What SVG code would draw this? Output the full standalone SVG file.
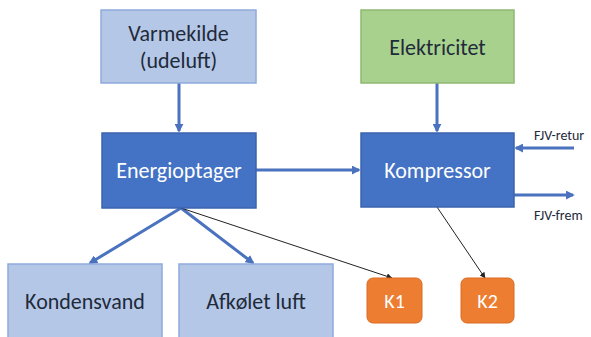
<svg xmlns="http://www.w3.org/2000/svg" width="591" height="337" viewBox="0 0 591 337">
  <style>
    text { font-family: Calibri, Carlito, "Liberation Sans", "DejaVu Sans", sans-serif; text-anchor: middle; }
    .light { fill: #b4c7e7; stroke: #8faadc; stroke-width: 1.5; }
    .dark { fill: #4472c4; stroke: #3b64ad; stroke-width: 1.5; }
    .green { fill: #a9d18e; stroke: #8fb872; stroke-width: 1.5; }
    .orange { fill: #ed7d31; stroke: #d96d25; stroke-width: 1; }
    .t-dark { fill: #1f2a3a; font-size: 22px; }
    .t-white { fill: #ffffff; font-size: 22px; }
    .t-k { fill: #ffffff; font-size: 20px; }
    .t-small { fill: #1f2a3a; font-size: 14px; text-anchor: start; }
    .flow { stroke: #4a72be; stroke-width: 3; fill: none; marker-end: url(#head); }
    .thin { stroke: #222; stroke-width: 1; fill: none; marker-end: url(#thinhead); }
  </style>
  <defs>
    <marker id="head" viewBox="0 0 10 10" refX="8" refY="5" markerWidth="3" markerHeight="3" orient="auto">
      <path d="M0,0 L10,5 L0,10 z" fill="#4a72be"/>
    </marker>
    <marker id="thinhead" viewBox="0 0 10 10" refX="9" refY="5" markerWidth="6" markerHeight="6" orient="auto">
      <path d="M0,0 L10,5 L0,10 z" fill="#222"/>
    </marker>
  </defs>

  <rect width="591" height="337" fill="#ffffff"/>

  <g id="connectors">
    <line class="flow" x1="179" y1="83" x2="179" y2="131"/>
    <line class="flow" x1="437" y1="83" x2="437" y2="131"/>
    <line class="flow" x1="256" y1="170" x2="359" y2="170"/>
    <line class="flow" x1="574" y1="148" x2="516" y2="148"/>
    <line class="flow" x1="514" y1="195" x2="573" y2="195"/>
    <line class="flow" x1="181" y1="208" x2="90" y2="263"/>
    <line class="flow" x1="181" y1="208" x2="253" y2="263"/>
    <line class="thin" x1="181" y1="208" x2="392" y2="278"/>
    <line class="thin" x1="437" y1="207" x2="485" y2="278"/>
  </g>

  <g id="varmekilde">
    <rect class="light" x="101" y="10" width="155" height="73"/>
    <text class="t-dark" x="178.5" y="41">Varmekilde</text>
    <text class="t-dark" x="178.5" y="68">(udeluft)</text>
  </g>

  <g id="elektricitet">
    <rect class="green" x="361" y="10" width="153" height="73"/>
    <text class="t-dark" x="437.5" y="55">Elektricitet</text>
  </g>

  <g id="energioptager">
    <rect class="dark" x="102" y="133" width="154" height="75"/>
    <text class="t-white" x="179" y="178">Energioptager</text>
  </g>

  <g id="kompressor">
    <rect class="dark" x="361" y="133" width="153" height="74"/>
    <text class="t-white" x="437.5" y="178">Kompressor</text>
  </g>

  <g id="fjv-retur">
    <text class="t-small" x="534" y="140">FJV-retur</text>
  </g>

  <g id="fjv-frem">
    <text class="t-small" x="534" y="220">FJV-frem</text>
  </g>

  <g id="kondensvand">
    <rect class="light" x="8" y="264" width="154" height="75"/>
    <text class="t-dark" x="85" y="309">Kondensvand</text>
  </g>

  <g id="afkoelet-luft">
    <rect class="light" x="179" y="264" width="154" height="75"/>
    <text class="t-dark" x="256" y="309">Afkølet luft</text>
  </g>

  <g id="k1">
    <rect class="orange" x="367" y="278" width="55" height="45" rx="6"/>
    <text class="t-k" x="394.5" y="308">K1</text>
  </g>

  <g id="k2">
    <rect class="orange" x="461" y="278" width="53" height="45" rx="6"/>
    <text class="t-k" x="487.5" y="308">K2</text>
  </g>
</svg>
